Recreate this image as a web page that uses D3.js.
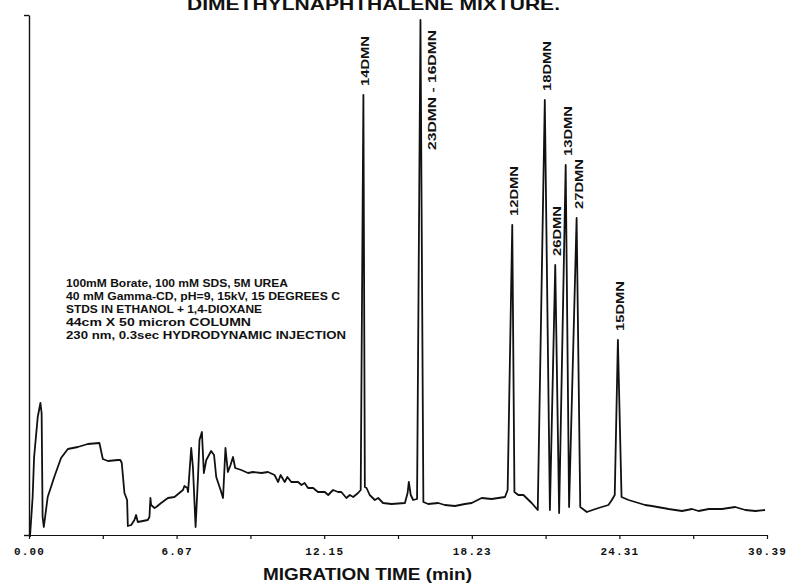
<!DOCTYPE html>
<html>
<head>
<meta charset="utf-8">
<script src="https://cdn.jsdelivr.net/npm/d3@7"></script>
<style>
  body { margin: 0; background: #fff; }
  svg { display: block; }
  text { font-family: "Liberation Sans", Arial, sans-serif; fill: #111; }
  .tick text { font-family: "Liberation Mono", "DejaVu Sans Mono", monospace; font-weight: bold; font-size: 11px; letter-spacing: 1.2px; }
</style>
</head>
<body>
<div id="chart"></div>
<script>
// electropherogram trace (time in min, signal in arbitrary units)
var migrationTime = [
  0.04, 0.15, 0.21, 0.36, 0.47, 0.52, 0.56, 0.61, 0.77, 1.04, 1.32, 1.60, 2.01, 2.42, 2.90,
  3.04, 3.25, 3.66, 3.76, 3.82, 3.93, 4.04, 4.07, 4.21, 4.34, 4.41, 4.48, 4.89, 4.96, 5.00,
  5.03, 5.17, 5.24, 5.44, 5.72, 5.99, 6.34, 6.40, 6.52, 6.55, 6.68, 6.75, 6.86, 6.96, 7.02,
  7.12, 7.20, 7.30, 7.50, 7.62, 7.71, 7.89, 7.99, 8.09, 8.19, 8.30, 8.40, 8.49, 8.74, 9.02,
  9.22, 9.57, 9.84, 10.11, 10.26, 10.36, 10.53, 10.64, 10.80, 11.08, 11.22, 11.35, 11.49, 11.70, 11.90,
  12.18, 12.32, 12.52, 12.73, 12.86, 13.07, 13.21, 13.35, 13.55, 13.66, 13.77, 13.83, 13.90, 14.03, 14.24,
  14.38, 14.58, 14.93, 15.48, 15.59, 15.64, 15.72, 15.82, 15.98, 16.12, 16.24, 16.44, 16.85, 17.12, 17.54,
  17.95, 18.23, 18.64, 19.05, 19.60, 19.71, 19.90, 19.99, 20.15, 20.36, 20.70, 20.95, 21.24, 21.45, 21.67,
  21.83, 22.10, 22.24, 22.55, 22.70, 22.97, 23.45, 23.86, 24.00, 24.12, 24.25, 24.40, 24.69, 24.96, 25.37,
  25.65, 26.34, 26.89, 27.30, 27.57, 27.99, 28.54, 29.08, 29.50, 29.91, 30.31
];
var signal = [
  -0.2, 3.8, 7.8, 11.8, 13.2, 12.2, 1.8, 0.8, 3.8, 5.8, 7.7, 8.6, 8.8, 9.1, 9.2,
  7.6, 7.4, 7.5, 7.5, 7.2, 4.2, 3.5, 0.9, 1.0, 1.5, 2.0, 1.3, 1.5, 1.8, 3.7,
  3.0, 2.7, 2.8, 3.2, 3.7, 3.8, 4.5, 4.9, 4.7, 4.3, 8.7, 6.8, 0.8, 5.8, 9.5,
  10.3, 6.2, 7.5, 8.4, 8.0, 5.8, 4.5, 3.7, 8.7, 6.3, 7.0, 7.8, 6.7, 6.5, 6.2,
  6.3, 6.2, 6.3, 6.0, 5.3, 6.0, 5.3, 5.8, 5.3, 5.3, 5.0, 5.2, 4.7, 4.7, 4.3,
  4.3, 4.0, 4.5, 4.3, 4.3, 3.7, 4.0, 3.8, 4.2, 4.5, 44.0, 4.8, 4.7, 4.0, 3.5,
  3.7, 3.2, 3.1, 3.2, 4.2, 5.3, 4.0, 3.5, 3.6, 51.5, 3.3, 3.1, 3.2, 3.0, 2.9,
  3.1, 3.2, 3.7, 3.6, 3.8, 4.5, 31.0, 4.3, 4.0, 4.0, 3.2, 2.5, 43.5, 2.5, 27.0,
  2.2, 37.0, 2.8, 31.7, 2.8, 2.3, 2.7, 3.0, 3.5, 4.0, 19.5, 3.8, 3.5, 3.3, 3.0,
  2.9, 2.6, 2.4, 2.6, 2.4, 2.6, 2.6, 2.8, 2.5, 2.4, 2.5
];

var peakNames = ["14DMN", "23DMN - 16DMN", "12DMN", "18DMN", "26DMN", "13DMN", "27DMN", "15DMN"];
var peakTimes = [13.77, 16.12, 19.90, 21.24, 21.67, 22.10, 22.55, 24.25];

var tickLabels = ["0.00", "6.07", "12.15", "18.23", "24.31", "30.39"];

var notes = [
  "100mM Borate, 100 mM SDS, 5M UREA",
  "40 mM Gamma-CD, pH=9, 15kV, 15 DEGREES C",
  "STDS IN ETHANOL + 1,4-DIOXANE",
  "44cm X 50 micron COLUMN",
  "230 nm, 0.3sec HYDRODYNAMIC INJECTION"
];

var width = 790, height = 585;

var svg = d3.select("#chart").append("svg")
    .attr("width", width)
    .attr("height", height);

var x = d3.scaleLinear().domain([0, 30.39]).range([29, 767]);
var y = d3.scaleLinear().domain([0, 52]).range([535, 15]);

// axes: 11 ticks, every other one labelled
var tickValues = d3.range(11).map((i) => i * 30.39 / 10);
var xAxis = d3.axisBottom(x)
    .tickValues(tickValues)
    .tickSize(4)
    .tickSizeOuter(0)
    .tickPadding(8)
    .tickFormat((d, i) => i % 2 === 0 ? tickLabels[i / 2] : "");

svg.append("g")
    .attr("transform", "translate(0," + y(0) + ")")
    .call(xAxis)
    .call((g) => g.selectAll("path, line").attr("stroke", "#111").attr("stroke-width", 1.2));

svg.append("g")
    .attr("transform", "translate(" + x(0) + ",0)")
    .call(d3.axisLeft(y).tickValues([0, 52]).tickSize(5).tickSizeOuter(0).tickFormat(""))
    .call((g) => g.selectAll("path, line").attr("stroke", "#111").attr("stroke-width", 1.4));

// trace
var points = migrationTime.map((t, i) => [t, signal[i]]);
var line = d3.line()
    .x((d) => x(d[0]))
    .y((d) => y(d[1]));

svg.append("path")
    .datum(points)
    .attr("d", line)
    .attr("fill", "none")
    .attr("stroke", "#111")
    .attr("stroke-width", 1.8)
    .attr("stroke-linejoin", "round");

// peak labels, rotated, sitting just above each peak
function peakHeight(t) {
  return d3.max(points.filter((p) => Math.abs(p[0] - t) < 0.05), (p) => p[1]);
}

svg.append("g").selectAll("text")
  .data(peakNames)
  .join("text")
    .attr("transform", (d, i) => {
      var px = x(peakTimes[i]) + 6;
      var py = y(peakHeight(peakTimes[i])) - 9;
      if (i === 1) { px += 10; py = 150; }
      return "translate(" + px + "," + py + ") rotate(-90)";
    })
    .attr("font-size", 11)
    .attr("font-weight", "bold")
    .attr("textLength", (d) => d.length > 6 ? 120 : 50)
    .attr("lengthAdjust", "spacingAndGlyphs")
    .text((d) => d);

// run conditions
svg.append("g").selectAll("text")
  .data(notes)
  .join("text")
    .attr("x", 66)
    .attr("y", (d, i) => 287 + i * 13)
    .attr("font-size", 10.5)
    .attr("font-weight", "bold")
    .attr("textLength", (d, i) => [222, 274, 196, 185, 280][i])
    .attr("lengthAdjust", "spacingAndGlyphs")
    .text((d) => d);

// titles
svg.append("text")
    .attr("x", 187)
    .attr("y", 10)
    .attr("font-size", 17)
    .attr("font-weight", "bold")
    .attr("textLength", 373)
    .attr("lengthAdjust", "spacingAndGlyphs")
    .text("DIMETHYLNAPHTHALENE MIXTURE.");

svg.append("text")
    .attr("x", 263)
    .attr("y", 580)
    .attr("font-size", 17)
    .attr("font-weight", "bold")
    .attr("textLength", 209)
    .attr("lengthAdjust", "spacingAndGlyphs")
    .text("MIGRATION TIME (min)");
</script>
</body>
</html>
